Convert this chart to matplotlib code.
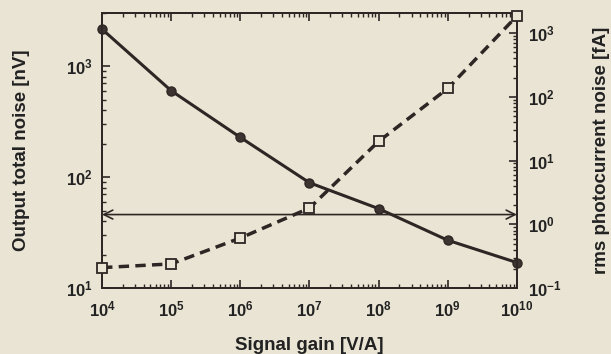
import matplotlib
matplotlib.use("Agg")
import matplotlib.pyplot as plt
from matplotlib.ticker import LogLocator, NullFormatter

plt.rcParams['font.family'] = ['Liberation Sans', 'DejaVu Sans']
plt.rcParams['axes.unicode_minus'] = False

# data
gain = [1e4, 1e5, 1e6, 1e7, 1e8, 1e9, 1e10]
output_noise = [2150, 600, 228, 89, 52, 27, 17]          # nV, left axis
photocurrent_noise = [0.21, 0.24, 0.61, 1.8, 20, 135, 1850]  # fA, right axis
arrow_level = 46  # nV

bg = '#e9e4d3'
ink = '#2e2624'

fig = plt.figure(figsize=(6.11, 3.54), dpi=100, facecolor=bg)
ax = fig.add_axes([0.167, 0.186, 0.679, 0.777])
ax.set_facecolor(bg)
ax2 = ax.twinx()

ax.plot(gain, output_noise, '-', color=ink, lw=2.2, marker='o', ms=6.5,
        mfc='#3d3432', mec=ink, zorder=3, clip_on=False)
ax2.plot(gain, photocurrent_noise, '--', color=ink, lw=2.5, dashes=(3, 1.8),
         marker='s', ms=7.5, mfc=bg, mec=ink, mew=1.3, zorder=3, clip_on=False)

ax.annotate('', xy=(gain[0], arrow_level), xytext=(gain[-1], arrow_level),
            arrowprops=dict(arrowstyle='<->', color=ink, lw=1.2,
                            mutation_scale=16, shrinkA=0, shrinkB=0))

ax.set_xscale('log')
ax.set_yscale('log')
ax2.set_yscale('log')
ax.set_xlim(1e4, 1e10)
ax.set_ylim(10, 3000)
ax2.set_ylim(0.1, 2050)

for a in (ax, ax2):
    a.xaxis.set_major_locator(LogLocator(base=10, numticks=20))
    a.xaxis.set_minor_locator(LogLocator(base=10, subs=range(2, 10), numticks=20))
    a.xaxis.set_minor_formatter(NullFormatter())
    a.yaxis.set_major_locator(LogLocator(base=10, numticks=20))
    a.yaxis.set_minor_locator(LogLocator(base=10, subs=range(2, 10), numticks=20))
    a.yaxis.set_minor_formatter(NullFormatter())
    for s in a.spines.values():
        s.set_color(ink)
        s.set_linewidth(1.3)

ax.tick_params(axis='both', which='both', direction='in', colors=ink,
               labelsize=12, top=True, right=False)
ax.tick_params(axis='y', which='both', pad=7)
ax.tick_params(axis='x', which='both', pad=8)
ax.tick_params(which='major', length=6, width=1.2)
ax.tick_params(which='minor', length=3, width=1.0)
ax2.tick_params(axis='y', which='both', direction='in', colors=ink, labelsize=12, pad=8)
ax2.tick_params(which='major', length=6, width=1.2)
ax2.tick_params(which='minor', length=3, width=1.0)

for lab in ax.get_xticklabels() + ax.get_yticklabels() + ax2.get_yticklabels():
    lab.set_fontweight('bold')
    lab.set_color('#222')

ax.set_xlabel('Signal gain [V/A]', fontsize=13.5, fontweight='bold', color='#222')
ax.set_ylabel('Output total noise [nV]', fontsize=13.5, fontweight='bold', color='#222')
ax2.set_ylabel('rms photocurrent noise [fA]', fontsize=13.5, fontweight='bold', color='#222')
for lab in (ax.xaxis.label, ax.yaxis.label, ax2.yaxis.label):
    lab.set_verticalalignment('center')
ax.xaxis.set_label_coords(0.5, -0.207)
ax.yaxis.set_label_coords(-0.195, 0.5)
ax2.yaxis.set_label_coords(1.205, 0.5)

fig.savefig('out.png', dpi=100, facecolor=bg)
